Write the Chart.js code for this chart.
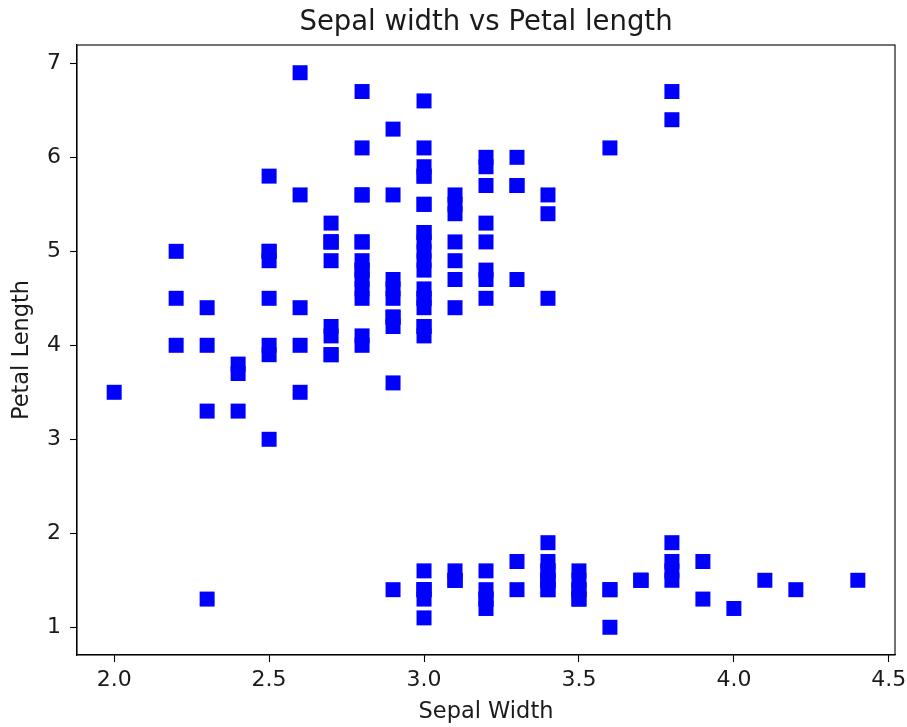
<!DOCTYPE html>
<html>
<head>
<meta charset="utf-8">
<script src="https://cdn.jsdelivr.net/npm/chart.js@4/dist/chart.umd.min.js"></script>
<style>
  html, body { margin: 0; padding: 0; background: #ffffff; }
  #wrap { width: 907px; height: 727px; }
</style>
</head>
<body>
<div id="wrap"><canvas id="chart" width="907" height="727"></canvas></div>
<script>
// Iris measurements: sepal width (cm) and petal length (cm)
const sepalWidth = [
  3.5,3.0,3.2,3.1,3.6,3.9,3.4,3.4,2.9,3.1,3.7,3.4,3.0,3.0,4.0,4.4,3.9,3.5,3.8,3.8,
  3.4,3.7,3.6,3.3,3.4,3.0,3.4,3.5,3.4,3.2,3.1,3.4,4.1,4.2,3.1,3.2,3.5,3.6,3.0,3.4,
  3.5,2.3,3.2,3.5,3.8,3.0,3.8,3.2,3.7,3.3,
  3.2,3.2,3.1,2.3,2.8,2.8,3.3,2.4,2.9,2.7,2.0,3.0,2.2,2.9,2.9,3.1,3.0,2.7,2.2,2.5,
  3.2,2.8,2.5,2.8,2.9,3.0,2.8,3.0,2.9,2.6,2.4,2.4,2.7,2.7,3.0,3.4,3.1,2.3,3.0,2.5,
  2.6,3.0,2.6,2.3,2.7,3.0,2.9,2.9,2.5,2.8,
  3.3,2.7,3.0,2.9,3.0,3.0,2.5,2.9,2.5,3.6,3.2,2.7,3.0,2.5,2.8,3.2,3.0,3.8,2.6,2.2,
  3.2,2.8,2.8,2.7,3.3,3.2,2.8,3.0,2.8,3.0,2.8,3.8,2.8,2.8,2.6,3.0,3.4,3.1,3.0,3.1,
  3.1,3.1,2.7,3.2,3.3,3.0,2.5,3.0,3.4,3.0
];
const petalLength = [
  1.4,1.4,1.3,1.5,1.4,1.7,1.4,1.5,1.4,1.5,1.5,1.6,1.4,1.1,1.2,1.5,1.3,1.4,1.7,1.5,
  1.7,1.5,1.0,1.7,1.9,1.6,1.6,1.5,1.4,1.6,1.6,1.5,1.5,1.4,1.5,1.2,1.3,1.4,1.3,1.5,
  1.3,1.3,1.3,1.6,1.9,1.4,1.6,1.4,1.5,1.4,
  4.7,4.5,4.9,4.0,4.6,4.5,4.7,3.3,4.6,3.9,3.5,4.2,4.0,4.7,3.6,4.4,4.5,4.1,4.5,3.9,
  4.8,4.0,4.9,4.7,4.3,4.4,4.8,5.0,4.5,3.5,3.8,3.7,3.9,5.1,4.5,4.5,4.7,4.4,4.1,4.0,
  4.4,4.6,4.0,3.3,4.2,4.2,4.2,4.3,3.0,4.1,
  6.0,5.1,5.9,5.6,5.8,6.6,4.5,6.3,5.8,6.1,5.1,5.3,5.5,5.0,5.1,5.3,5.5,6.7,6.9,5.0,
  5.7,4.9,6.7,4.9,5.7,6.0,4.8,4.9,5.6,5.8,6.1,6.4,5.6,5.1,5.6,6.1,5.6,5.5,4.8,5.4,
  5.6,5.1,5.1,5.9,5.7,5.2,5.0,5.2,5.4,5.1
];

// Axis tick values
const xTicks = [2.0, 2.5, 3.0, 3.5, 4.0, 4.5];
const yTicks = [1, 2, 3, 4, 5, 6, 7];

const chartTitle = 'Sepal width vs Petal length';
const xTitle = 'Sepal Width';
const yTitle = 'Petal Length';

const points = sepalWidth.map((w, i) => ({ x: w, y: petalLength[i] }));

// 5% margin around the data range on both axes
function paddedRange(vals) {
  const lo = Math.min(...vals), hi = Math.max(...vals);
  const m = (hi - lo) * 0.05;
  return [lo - m, hi + m];
}
const [xMin, xMax] = paddedRange(sepalWidth);
const [yMin, yMax] = paddedRange(petalLength);

const textColor = '#1a1a1a';
const fontFamily = '"DejaVu Sans", sans-serif';

// Closed frame around the plotting area
const frame = {
  id: 'frame',
  afterDatasetsDraw(chart) {
    const { ctx, chartArea: a } = chart;
    ctx.save();
    ctx.strokeStyle = '#000000';
    ctx.lineWidth = 1.1;
    ctx.strokeRect(a.left, a.top, a.right - a.left, a.bottom - a.top);
    ctx.restore();
  }
};

new Chart(document.getElementById('chart'), {
  type: 'scatter',
  data: {
    datasets: [{
      data: points,
      pointStyle: 'rect',
      pointRadius: 10.6,
      pointHoverRadius: 10.6,
      backgroundColor: '#0000ff',
      borderColor: '#0000ff',
      borderWidth: 0
    }]
  },
  options: {
    responsive: false,
    animation: false,
    events: [],
    layout: { padding: { left: 0, right: 12, top: 0, bottom: 0 } },
    plugins: {
      legend: { display: false },
      tooltip: { enabled: false },
      title: {
        display: true,
        fullSize: false,
        text: chartTitle,
        color: textColor,
        font: { family: fontFamily, size: 27.5, weight: 'normal', lineHeight: 1.2 },
        padding: { top: 6, bottom: 6 }
      }
    },
    scales: {
      x: {
        type: 'linear',
        min: xMin,
        max: xMax,
        afterBuildTicks(scale) { scale.ticks = xTicks.map(v => ({ value: v })); },
        afterFit(scale) {
          scale.height = 72;
          scale.paddingLeft = 0;
          scale.paddingRight = 0;
        },
        ticks: {
          callback: v => Number(v).toFixed(1),
          color: textColor,
          font: { family: fontFamily, size: 22 },
          padding: 5,
          maxRotation: 0
        },
        grid: {
          display: true,
          drawOnChartArea: false,
          drawTicks: true,
          tickLength: 7,
          tickColor: '#000000',
          tickWidth: 1.1
        },
        border: { display: true, color: '#000000', width: 1.1 },
        title: {
          display: true,
          text: xTitle,
          color: textColor,
          font: { family: fontFamily, size: 22.5, lineHeight: 1.2 },
          padding: { top: 0, bottom: 1 }
        }
      },
      y: {
        type: 'linear',
        min: yMin,
        max: yMax,
        afterBuildTicks(scale) { scale.ticks = yTicks.map(v => ({ value: v })); },
        afterFit(scale) {
          scale.width = 77;
          scale.paddingTop = 0;
          scale.paddingBottom = 0;
        },
        ticks: {
          callback: v => String(v),
          color: textColor,
          font: { family: fontFamily, size: 22 },
          padding: 9
        },
        grid: {
          display: true,
          drawOnChartArea: false,
          drawTicks: true,
          tickLength: 7,
          tickColor: '#000000',
          tickWidth: 1.1
        },
        border: { display: true, color: '#000000', width: 1.1 },
        title: {
          display: true,
          text: yTitle,
          color: textColor,
          font: { family: fontFamily, size: 22.5, lineHeight: 1.2 },
          padding: { top: 9, bottom: 0 }
        }
      }
    }
  },
  plugins: [frame]
});
</script>
</body>
</html>
